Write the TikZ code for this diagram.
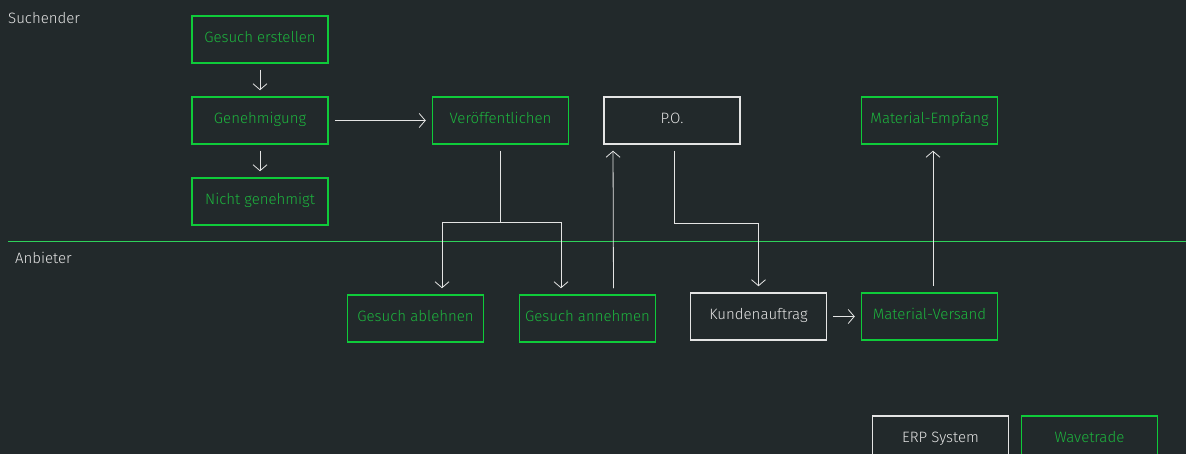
\documentclass[tikz,border=0pt]{standalone}
\usepackage{fontspec}
\setmainfont{Fira Sans}[UprightFont=* Light]
\usetikzlibrary{arrows,arrows.meta,positioning}
\definecolor{bgdark}{HTML}{22292B}
\definecolor{wtgreen}{HTML}{0FCB3A}
\definecolor{wttext}{HTML}{1DB53E}
\definecolor{erpgray}{HTML}{E4E4E4}
\definecolor{lanegreen}{HTML}{2ED15A}

\begin{document}
\begin{tikzpicture}[x=1pt,y=-1pt,
>={Straight Barb[length=6pt,width=14pt]},
font=\fontsize{15}{17}\selectfont]
\tikzstyle{wave}=[rectangle,draw=wtgreen,line width=1.5pt,
minimum width=136pt,minimum height=47pt,inner sep=0pt,
text height=1.5ex,text depth=.3ex,text=wttext]
\tikzstyle{erp}=[wave,draw=erpgray,text=erpgray]
\tikzstyle{flow}=[draw=erpgray,line width=0.8pt,shorten <=6pt,shorten >=6pt]
\tikzstyle{lane}=[anchor=west,text=erpgray,inner sep=0pt]

\fill[bgdark] (0,0) rectangle (1186,454);
\useasboundingbox (0,0) rectangle (1186,454);

% lanes
\node[lane] (seeker) at (8,18) {Suchender};
\node[lane] (supplier) at (15,258) {Anbieter};
\draw[lanegreen,line width=0.8pt] (8,241) -- (1186,241);

% Suchender
\node[wave] at (260,39.5)	(create) {Gesuch erstellen};
\node[wave] at (260,120.5)	(approve) {Genehmigung};
\node[wave] at (260,201.5)	(denied) {Nicht genehmigt};
\node[wave] at (500.5,120.5)	(publish) {Veröffentlichen};
\node[erp] at (672,120.5)	(po) {P.O.};
\node[wave] at (929.5,120.5)	(receive) {Material-Empfang};

% Anbieter
\node[wave] at (415.5,318.5)	(reject) {Gesuch ablehnen};
\node[wave] at (587.5,318.5)	(accept) {Gesuch annehmen};
\node[erp] at (758.5,316.5)	(order) {Kundenauftrag};
\node[wave] at (929.5,316.5)	(ship) {Material-Versand};

% legend
\node[erp] at (940.5,439.5)	(legerp) {ERP System};
\node[wave] at (1089.5,439.5)	(legwave) {Wavetrade};

\coordinate (split) at (500.5,222);
\coordinate (splitL) at (442,222);
\coordinate (splitR) at (561,222);

\path[flow,->] (create) edge (approve);
\path[flow,->] (approve) edge (denied);
\path[flow,->] (approve) edge (publish);
\draw[flow,shorten >=0pt] (publish) -- (split);
\draw[line width=0.8pt,draw=erpgray] (splitL) -- (splitR);
\draw[flow,shorten <=0pt,->] (splitL) -- (splitL |- reject.north);
\draw[flow,shorten <=0pt,->] (splitR) -- (splitR |- accept.north);
\draw[flow,->] ([xshift=26pt]accept.north) -- ([xshift=-59pt]po.south);
\draw[flow,->] ([xshift=2pt]po.south) -- ++(0,79) -| (order.north);
\path[flow,->] (order) edge (ship);
\draw[flow,->] ([xshift=3.5pt]ship.north) -- ([xshift=3.5pt]receive.south);

\end{tikzpicture}
\end{document}
